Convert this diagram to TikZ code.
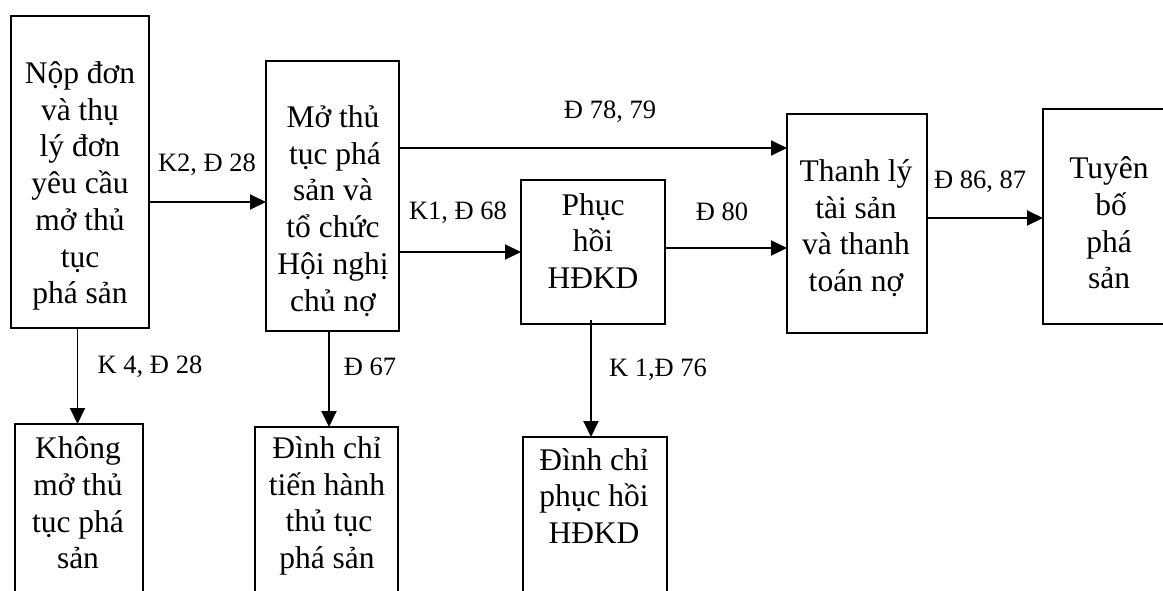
\documentclass[tikz,border=0pt]{standalone}
\usepackage{fontspec}
\setmainfont{Liberation Serif}
\usetikzlibrary{arrows.meta}
\begin{document}
\begin{tikzpicture}[x=1pt,y=-1pt,
  box/.style={draw, line width=1.9pt, inner sep=0pt, outer sep=0pt},
  txt/.style={align=center, inner sep=0pt, font=\fontsize{31.5}{36.7}\selectfont},
  lbl/.style={inner sep=0pt, font=\fontsize{26.5}{30}\selectfont},
  arr/.style={line width=1.9pt, -{Triangle[length=16pt,width=15pt]}}]
\useasboundingbox (0,0) rectangle (1163,590);
\fill[white] (0,0) rectangle (1163,590);
\clip (0,0) rectangle (1163,590);
% boxes
\node[box, minimum width=138pt, minimum height=312pt] (b1) at (80,172) {};
\node[box, minimum width=133pt, minimum height=270pt] (b2) at (332.5,196) {};
\node[box, minimum width=144pt, minimum height=144pt] (b3) at (593,252) {};
\node[box, minimum width=140pt, minimum height=219pt] (b4) at (857,223.5) {};
\node[box, minimum width=134pt, minimum height=215pt] (b5) at (1110,216.5) {};
\node[box, minimum width=128pt, minimum height=196pt] (b6) at (79,522) {};
\node[box, minimum width=143pt, minimum height=193pt] (b7) at (326.5,523.5) {};
\node[box, minimum width=144pt, minimum height=183pt] (b8) at (595,528.5) {};
% texts
\node[txt] (t1) at (80,186) {Nộp đơn\\và thụ\\lý đơn\\yêu cầu\\mở thủ\\tục\\phá sản};
\node[txt] (t2) at (333,211) {Mở thủ\\\hspace{4pt}tục phá\\sản và\\tổ chức\\Hội nghị\\chủ nợ};
\node[txt] (t3) at (593,241) {Phục\\hồi\\HĐKD};
\node[txt] (t4) at (856,228) {Thanh lý\\tài sản\\và thanh\\toán nợ};
\node[txt] (t5) at (1109,223) {Tuyên\\\hspace{4pt}bố\\phá\\sản};
\node[txt] (t6) at (78,503) {Không\\mở thủ\\tục phá\\sản};
\node[txt] (t7) at (327,506) {Đình chỉ\\tiến hành\\\hspace{4pt}thủ tục\\phá sản};
\node[txt] (t8) at (594,496) {Đình chỉ\\phục hồi\\HĐKD};
% connectors
\draw[arr] ([yshift=-30pt]b1.east) coordinate (s12) -- (s12 -| b2.west);
\draw[arr] ([yshift=48pt]b2.east) coordinate (s24) -- (s24 -| b4.west);
\draw[arr] ([yshift=-56pt]b2.east) coordinate (s23) -- (s23 -| b3.west);
\draw[arr] ([yshift=4pt]b3.east) coordinate (s34) -- (s34 -| b4.west);
\draw[arr] ([yshift=5.5pt]b4.east) coordinate (s45) -- (s45 -| b5.west);
\draw[arr] ([xshift=-2.5pt]b1.south) coordinate (s16) -- (s16 |- b6.north);
\draw[arr] ([xshift=-3.5pt]b2.south) coordinate (s27) -- (s27 |- b7.north);
\draw[arr] ([xshift=-2pt,yshift=4pt]b3.south) coordinate (s38) -- (s38 |- b8.north);
% labels
\node[lbl] (l12) at (207,165) {K2, Đ 28};
\node[lbl] (l24) at (610,112) {Đ 78, 79};
\node[lbl] (l23) at (458,213) {K1, Đ 68};
\node[lbl] (l34) at (722,212) {Đ 80};
\node[lbl] (l45) at (980,182) {Đ 86, 87};
\node[lbl] (l16) at (150,367) {K 4, Đ 28};
\node[lbl] (l27) at (370,367) {Đ 67};
\node[lbl] (l38) at (658,370) {K 1,Đ 76};
\end{tikzpicture}
\end{document}
